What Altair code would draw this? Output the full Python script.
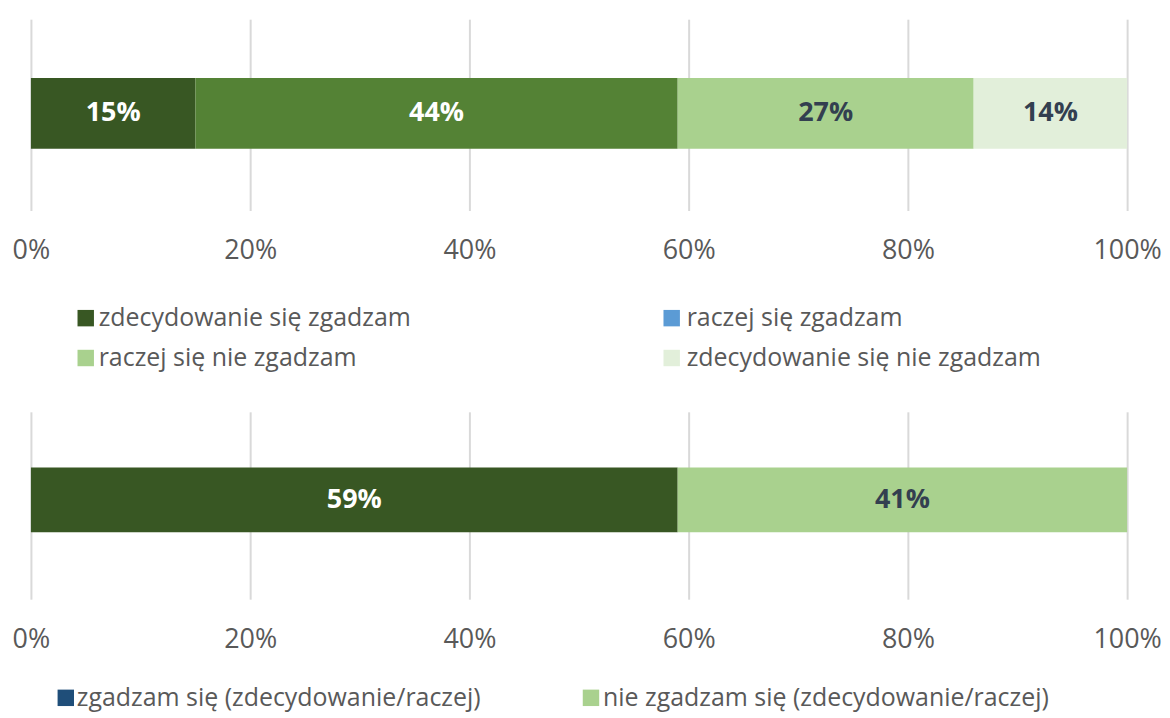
import altair as alt
import pandas as pd

# ---- data ----
cats_top = ["zdecydowanie się zgadzam", "raczej się zgadzam",
            "raczej się nie zgadzam", "zdecydowanie się nie zgadzam"]
vals_top = [15, 44, 27, 14]
cats_bot = ["zgadzam się (zdecydowanie/raczej)", "nie zgadzam się (zdecydowanie/raczej)"]
vals_bot = [59, 41]
tick_values = [0, 20, 40, 60, 80, 100]

# ---- styles ----
bar_colors_top = ["#385723", "#548235", "#A9D18E", "#E2EFDA"]
legend_colors_top = ["#385723", "#5B9BD5", "#A9D18E", "#E2EFDA"]
label_colors_top = ["#FFFFFF", "#FFFFFF", "#333F50", "#333F50"]
bar_colors_bot = ["#385723", "#A9D18E"]
legend_colors_bot = ["#1F4E79", "#A9D18E"]
label_colors_bot = ["#FFFFFF", "#333F50"]

FONT = "Open Sans"
W = 1100


def panel(cats, vals, bar_colors, label_colors, legend_colors, height, bar_size,
          band_align, legend_pos):
    df = pd.DataFrame({"cat": cats, "value": vals,
                       "order": list(range(len(cats))), "row": ["a"] * len(cats)})
    base = alt.Chart(df)
    yscale = alt.Scale(paddingInner=0, paddingOuter=0.5, align=band_align)
    bars = base.mark_bar(size=bar_size).encode(
        x=alt.X("value:Q", stack="zero",
                scale=alt.Scale(domain=[0, 100], nice=False),
                axis=alt.Axis(values=tick_values, labelExpr="datum.value + '%'",
                              title=None, ticks=False, domain=False, labelFlush=False,
                              labelPadding=40, labelBaseline="middle",
                              labelFontSize=27, labelColor="#595959", labelFont=FONT,
                              grid=True, gridColor="#D9D9D9", gridWidth=2)),
        y=alt.Y("row:N", axis=None, scale=yscale),
        color=alt.Color("cat:N", scale=alt.Scale(domain=cats, range=bar_colors),
                        legend=None),
        order=alt.Order("order:Q"),
    )
    text = base.transform_window(
        cum="sum(value)", sort=[alt.SortField("order")], frame=[None, 0]
    ).transform_calculate(
        mid="datum.cum - datum.value / 2", label="datum.value + '%'"
    ).mark_text(font=FONT, fontWeight="bold", fontSize=27, baseline="middle").encode(
        x=alt.X("mid:Q"),
        y=alt.Y("row:N", scale=yscale),
        text="label:N",
        color=alt.Color("cat:N", scale=alt.Scale(domain=cats, range=label_colors),
                        legend=None),
    )
    layers = [bars, text]
    one = pd.DataFrame({"k": [0]})
    for cat, col, (sx, tx, ty) in zip(cats, legend_colors, legend_pos):
        layers.append(alt.Chart(one).mark_square(size=272, color=col, opacity=1,
                                                 filled=True).encode(
            x=alt.value(sx), y=alt.value(ty)))
        layers.append(alt.Chart(one).mark_text(
            align="left", baseline="middle", font=FONT, fontSize=25,
            color="#595959").encode(x=alt.value(tx), y=alt.value(ty),
                                    text=alt.value(cat)))
    return alt.layer(*layers).resolve_scale(color="independent").properties(
        width=W, height=height)


top = panel(cats_top, vals_top, bar_colors_top, label_colors_top, legend_colors_top,
            192, 71, 0.484,
            [(55, 68, 300), (643, 658, 300), (55, 68, 340), (643, 658, 340)])
bot = panel(cats_bot, vals_bot, bar_colors_bot, label_colors_bot, legend_colors_bot,
            188, 65, 0.44,
            [(35, 46, 287), (562, 574, 287)])

chart = alt.vconcat(top, bot, spacing=202, bounds="flush").properties(
    padding={"left": 4, "top": 10, "right": 0, "bottom": 0},
    background="white",
).configure_view(stroke=None)

chart.save("out.html", embed_options={"renderer": "svg", "actions": False})
